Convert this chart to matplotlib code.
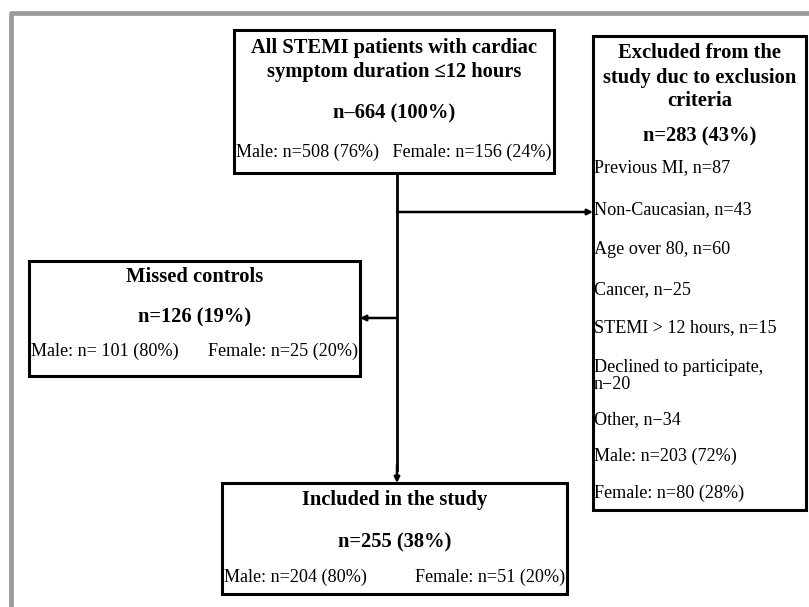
import matplotlib
matplotlib.use("Agg")
import matplotlib.pyplot as plt
from matplotlib.patches import Rectangle

# text content of the flowchart
top_title = ["All STEMI patients with cardiac", "symptom duration \u226412 hours"]
top_n = "n\u2013664 (100%)"
top_sex = "Male: n=508 (76%)   Female: n=156 (24%)"

excl_title = ["Excluded from the", "study duc to exclusion", "criteria"]
excl_n = "n=283 (43%)"
excl_items = ["Previous MI, n=87", "Non-Caucasian, n=43", "Age over 80, n=60",
              "Cancer, n\u221225", "STEMI > 12 hours, n=15",
              "Declined to participate,\nn\u221220", "Other, n\u221234",
              "Male: n=203 (72%)", "Female: n=80 (28%)"]

missed_title = "Missed controls"
missed_n = "n=126 (19%)"
missed_sex = ["Male: n= 101 (80%)", "Female: n=25 (20%)"]

incl_title = "Included in the study"
incl_n = "n=255 (38%)"
incl_sex = ["Male: n=204 (80%)", "Female: n=51 (20%)"]

W, H = 809, 607
fig = plt.figure(figsize=(W / 100, H / 100), dpi=100)
ax = fig.add_axes([0, 0, 1, 1])
ax.set_xlim(0, W)
ax.set_ylim(H, 0)
ax.axis("off")

serif = ["Liberation Serif", "DejaVu Serif"]
bold_fs = 14.8
norm_fs = 13.1

# grey outer frame
ax.plot([11, 11, W], [H, 13, 13], color="#9a9a9a", lw=3.4, solid_capstyle="butt")


def box(x0, y0, x1, y1):
    ax.add_patch(Rectangle((x0, y0), x1 - x0, y1 - y0, fill=False,
                           edgecolor="black", lw=2.2))


def txt(x, y, s, bold=False, ha="center"):
    ax.text(x, y, s, ha=ha, va="center", family=serif,
            fontsize=bold_fs if bold else norm_fs,
            fontweight="bold" if bold else "normal", linespacing=1.05)


# top box
box(234, 30, 554, 173)
cx = (234 + 554) / 2
txt(cx, 48, top_title[0], bold=True)
txt(cx, 72, top_title[1], bold=True)
txt(cx, 113, top_n, bold=True)
txt(cx, 152, top_sex)

# exclusion box
box(593, 36, 806, 510)
ex = (593 + 806) / 2
for s, y in zip(excl_title, [53, 78, 101]):
    txt(ex, y, s, bold=True)
txt(ex, 136, excl_n, bold=True)
item_y = [168, 210, 250, 290, 328, 376, 420, 456, 493]
for s, y in zip(excl_items, item_y):
    txt(594, y, s, ha="left")

# missed controls box
box(29, 261, 360, 376)
mx = (29 + 360) / 2
txt(mx, 277, missed_title, bold=True)
txt(mx, 317, missed_n, bold=True)
txt(31, 351, missed_sex[0], ha="left")
txt(358, 351, missed_sex[1], ha="right")

# included box
box(222, 483, 567, 594)
ix = (222 + 567) / 2
txt(ix, 500, incl_title, bold=True)
txt(ix, 542, incl_n, bold=True)
txt(224, 577, incl_sex[0], ha="left")
txt(565, 577, incl_sex[1], ha="right")

# connectors
vx = 397
ax.plot([vx, vx], [173, 470], color="black", lw=2)
arrow = dict(arrowstyle="-|>", color="black", lw=1.8, mutation_scale=8,
             shrinkA=0, shrinkB=0)
ax.annotate("", xy=(vx, 483), xytext=(vx, 465), arrowprops=arrow)
ax.annotate("", xy=(593, 212), xytext=(vx, 212), arrowprops=arrow)
ax.annotate("", xy=(360, 318), xytext=(vx, 318), arrowprops=arrow)

fig.savefig("out.png", dpi=100)
